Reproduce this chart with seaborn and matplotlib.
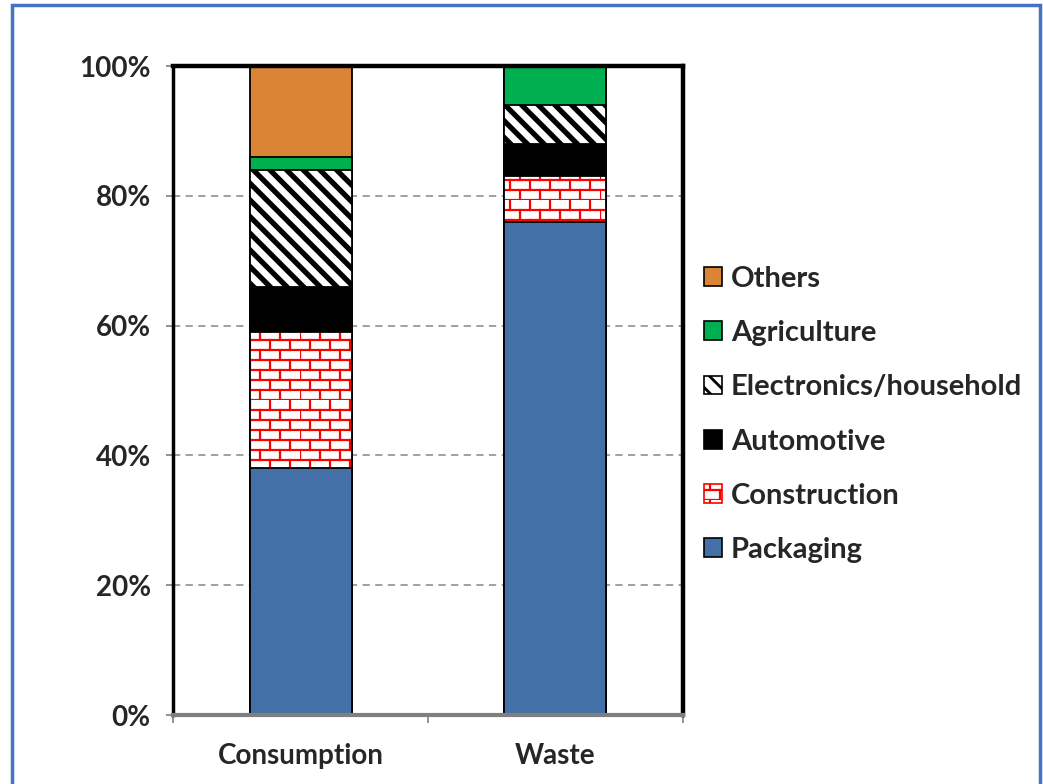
import warnings
warnings.filterwarnings("ignore")
import numpy as np
import pandas as pd
import matplotlib
matplotlib.use("Agg")
import matplotlib.pyplot as plt
import matplotlib.hatch as mhatch
from matplotlib.path import Path
from matplotlib.patches import Patch, Rectangle
import seaborn as sns

# ---------------- data ----------------
groups = ["Consumption", "Waste"]
sectors = ["Packaging", "Construction", "Automotive", "Electronics/household", "Agriculture", "Others"]
packaging = [38, 76]
construction = [21, 7]
automotive = [7, 5]
electronics = [18, 6]
agriculture = [2, 6]
others = [14, 0]
yticks = [0, 20, 40, 60, 80, 100]
ytick_labels = ["0%", "20%", "40%", "60%", "80%", "100%"]

# ---------------- custom brick hatch ----------------
class BrickHatch(mhatch.HatchPatternBase):
    rows = 10
    cols = 5

    def __init__(self, hatch, density):
        if "B" in hatch:
            self.num_vertices = (self.rows + self.rows * self.cols) * 2
        else:
            self.num_vertices = 0

    def set_vertices_and_codes(self, vertices, codes):
        h = 1.0 / self.rows
        w = 1.0 / self.cols
        segs = []
        for r in range(self.rows):
            y = r * h
            segs.append(((0.0, y), (1.0, y)))
            off = 0.0 if r % 2 == 0 else w / 2
            for c in range(self.cols):
                x = c * w + off
                segs.append(((x, y), (x, y + h)))
        i = 0
        for a, b in segs:
            vertices[i] = a
            vertices[i + 1] = b
            codes[i] = Path.MOVETO
            codes[i + 1] = Path.LINETO
            i += 2

mhatch._hatch_types.append(BrickHatch)

# ---------------- styles ----------------
styles = {
    "Packaging": dict(face="#4470A8", hatch=None, hcolor=None, hlw=None),
    "Construction": dict(face="white", hatch="B", hcolor="#FF0000", hlw=1.6),
    "Automotive": dict(face="black", hatch=None, hcolor=None, hlw=None),
    "Electronics/household": dict(face="white", hatch="\\\\", hcolor="black", hlw=3.8),
    "Agriculture": dict(face="#00B050", hatch=None, hcolor=None, hlw=None),
    "Others": dict(face="#D98535", hatch=None, hcolor=None, hlw=None),
}

values = {
    "Packaging": packaging,
    "Construction": construction,
    "Automotive": automotive,
    "Electronics/household": electronics,
    "Agriculture": agriculture,
    "Others": others,
}

df = pd.DataFrame({"group": groups, **{s: values[s] for s in sectors}})
cum = df[sectors].cumsum(axis=1)
cum["group"] = df["group"]

sns.set_theme(style="white")
plt.rcParams["font.family"] = ["Lato", "DejaVu Sans"]
plt.rcParams["font.weight"] = "bold"

fig = plt.figure(figsize=(10.43, 7.84), dpi=100)
ax = fig.add_axes([0.1659, 0.0880, 0.6548 - 0.1659, 0.9158 - 0.0880])


def style_patches(patches, st, hlw=None):
    for p in patches:
        if st["hatch"]:
            p.set_hatch(st["hatch"])
            try:
                p.set_hatchcolor(st["hcolor"])
            except Exception:
                p._hatch_color = matplotlib.colors.to_rgba(st["hcolor"])
            lw = hlw if hlw is not None else st["hlw"]
            try:
                p.set_hatch_linewidth(lw)
            except Exception:
                p._hatch_linewidth = lw


# draw cumulative bars from the tallest down
for s in reversed(sectors):
    st = styles[s]
    sns.barplot(data=cum, x="group", y=s, order=groups, color=st["face"],
                saturation=1, width=0.4, edgecolor="black", linewidth=1.3,
                ax=ax, zorder=3)
    style_patches(ax.containers[-1], st)

ax.set_xlim(-0.5, 1.5)
ax.set_ylim(0, 100)
ax.set_xlabel("")
ax.set_ylabel("")

FS = 20
ax.set_yticks(yticks)
ax.set_yticklabels(ytick_labels, fontsize=FS, fontweight="bold")
ax.set_xticks([0, 1])
ax.set_xticklabels(groups, fontsize=FS, fontweight="bold")
ax.set_xticks([-0.5, 0.5, 1.5], minor=True)
ax.tick_params(axis="x", which="major", length=0, pad=20)
ax.tick_params(axis="x", which="minor", length=6, width=1.2, color="#808080", direction="out", bottom=True)
ax.tick_params(axis="y", which="major", length=5, width=1.2, color="#808080", direction="out", left=True, pad=11)

for y in yticks[1:-1]:
    ax.axhline(y, color="#999999", lw=1.3, ls=(0, (4, 3)), zorder=1)

for side in ["top", "right"]:
    ax.spines[side].set_color("black")
    ax.spines[side].set_linewidth(3.2)
ax.spines["left"].set_color("black")
ax.spines["left"].set_linewidth(2.5)
ax.spines["left"].set_linestyle((0, (3, 1)))
ax.spines["bottom"].set_color("#7F7F7F")
ax.spines["bottom"].set_linewidth(3.0)
for sp in ax.spines.values():
    sp.set_zorder(5)

# legend
legend_order = list(reversed(sectors))
handles = [Patch(facecolor=styles[s]["face"], edgecolor="black", linewidth=1.2, label=s)
           for s in legend_order]
leg = fig.legend(handles=handles, loc="upper left", bbox_to_anchor=(0.664, 0.676),
                 frameon=False, prop=dict(size=21, weight="bold"),
                 handlelength=0.62, handleheight=0.62, handletextpad=0.3,
                 labelspacing=0.97, borderaxespad=0)
for s, h in zip(legend_order, leg.legend_handles):
    st = styles[s]
    if st["hatch"]:
        style_patches([h], st, hlw=1.6 if s == "Construction" else 2.0)
        if s == "Construction":
            h.set_edgecolor("#FF0000")

# figure border
fig.patches.append(Rectangle((12 / 1043, -0.05), (1040 - 12) / 1043, 1.05 - 5 / 784,
                             transform=fig.transFigure, fill=False,
                             edgecolor="#4472C4", linewidth=2.5, zorder=10))

fig.savefig("out.png", dpi=100)
